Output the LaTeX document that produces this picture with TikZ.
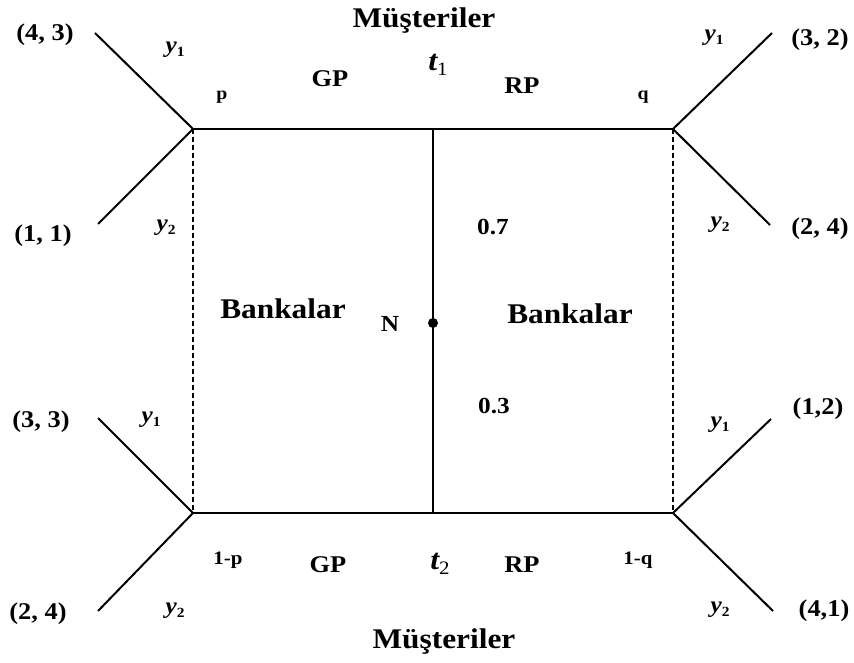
\documentclass[tikz,border=0pt]{standalone}
\usepackage{fontspec}
\setmainfont{Liberation Serif}[FakeStretch=1.1]
\usepackage{tikz}
\usetikzlibrary{positioning}

\newcommand{\fsz}[1]{\fontsize{#1}{#1}\selectfont}
\newcommand{\ylab}[1]{{\fsz{23}\bfseries\itshape y}\raisebox{-4pt}{\fsz{14}\bfseries #1}}
\newcommand{\tlab}[1]{{\fsz{29}\bfseries\itshape t}\raisebox{-5pt}{\fsz{19}#1}}

\tikzset{
  edge/.style={line width=2pt},
  infoset/.style={line width=1.6pt, dash pattern=on 5pt off 3pt},
  chance/.style={circle, fill, inner sep=0pt, minimum size=10pt},
  title/.style={font=\bfseries\fsz{28.5}},
  payoff/.style={font=\bfseries\fsz{24}},
  act/.style={font=\bfseries\fsz{24}},
  prob/.style={font=\bfseries\fsz{18}},
  ylbl/.style={inner sep=0pt},
}

\begin{document}
\begin{tikzpicture}[x=1pt, y=-1pt]
    \useasboundingbox (0,0) rectangle (854,663);

    % --- decision points ---
    \coordinate (P)  at (193,129);
    \coordinate (Q)  at (673,129);
    \coordinate (P2) at (193,513);
    \coordinate (Q2) at (673,513);
    \coordinate (T1) at (433,129);
    \coordinate (T2) at (433,513);
    \node[chance] (N0) at (433,323) {};
    \node[font=\bfseries\fsz{23}] (Nlab) at (390,324) {N};

    % --- main frame ---
    \draw[edge] (P) -- (Q);
    \draw[edge] (P2) -- (Q2);
    \draw[edge] (T1) -- (T2);
    \draw[infoset] (P) -- (P2);
    \draw[infoset] (Q) -- (Q2);

    % --- payoff branches ---
    \coordinate (e1) at (95,33);
    \coordinate (e2) at (98,224);
    \coordinate (e3) at (772,33);
    \coordinate (e4) at (770,225);
    \coordinate (e5) at (98,418);
    \coordinate (e6) at (98,611);
    \coordinate (e7) at (771,419);
    \coordinate (e8) at (773,611);
    \foreach \v/\e in {P/e1, P/e2, Q/e3, Q/e4, P2/e5, P2/e6, Q2/e7, Q2/e8}
      \draw[edge] (\v) -- (\e);

    \node[payoff] (u1) at (45,35)   {(4, 3)};
    \node[payoff] (u2) at (43,236)  {(1, 1)};
    \node[payoff] (u3) at (820,40)  {(3, 2)};
    \node[payoff] (u4) at (820,229) {(2, 4)};
    \node[payoff] (u5) at (41,422)  {(3, 3)};
    \node[payoff] (u6) at (38,614)  {(2, 4)};
    \node[payoff] (u7) at (818,409) {(1,2)};
    \node[payoff] (u8) at (824,611) {(4,1)};

    % --- customer moves ---
    \node[ylbl] (y1a) at (175,50)  {\ylab{1}};
    \node[ylbl] (y2a) at (166,228) {\ylab{2}};
    \node[ylbl] (y1b) at (714,38)  {\ylab{1}};
    \node[ylbl] (y2b) at (720,225) {\ylab{2}};
    \node[ylbl] (y1c) at (151,420) {\ylab{1}};
    \node[ylbl] (y2c) at (175,611) {\ylab{2}};
    \node[ylbl] (y1d) at (720,425) {\ylab{1}};
    \node[ylbl] (y2d) at (720,610) {\ylab{2}};

    % --- bank moves ---
    \node[prob] (pp)  at (222,97)  {p};
    \node[prob] (qq)  at (643,97)  {q};
    \node[font=\bfseries\fsz{19}] (p1) at (228,560) {1-p};
    \node[font=\bfseries\fsz{19}] (q1) at (638,560) {1-q};
    \node[act] (gp1) at (330,79)  {GP};
    \node[act] (rp1) at (522,86)  {RP};
    \node[act] (gp2) at (328,565) {GP};
    \node[act] (rp2) at (522,565) {RP};
    \node (t1) at (438,65)  {\tlab{1}};
    \node (t2) at (440,564) {\tlab{2}};

    % --- nature probabilities ---
    \node[font=\bfseries\fsz{23}] (pr7) at (493,227) {0.7};
    \node[font=\bfseries\fsz{23}] (pr3) at (494,406) {0.3};

    % --- players ---
    \node[title] (mtop) at (424,21)  {Müşteriler};
    \node[title] (mbot) at (444,642) {Müşteriler};
    \node[title] (bl)   at (283,309) {Bankalar};
    \node[title] (br)   at (570,314) {Bankalar};
  \end{tikzpicture}
\end{document}
